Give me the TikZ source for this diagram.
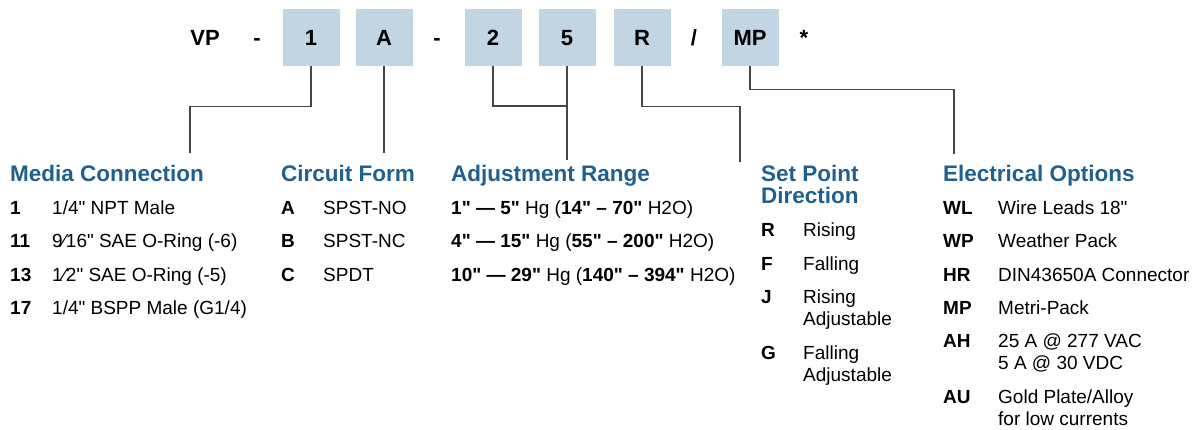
\documentclass[tikz,border=0pt]{standalone}
\usepackage{fontspec}
\setmainfont{Liberation Sans}[Ligatures=TeXOff]
\usepackage{xcolor}
\definecolor{boxblue}{RGB}{194,213,226}
\definecolor{headblue}{RGB}{31,96,142}
\definecolor{linegray}{RGB}{70,70,70}
\tikzset{
  codebox/.style={fill=boxblue,minimum width=57pt,minimum height=57pt,inner sep=0pt,text height=15pt,text depth=0pt,font=\fontsize{22}{24}\selectfont\bfseries},
  sep/.style={anchor=base,inner sep=0pt,font=\fontsize{22}{24}\selectfont\bfseries},
  head/.style={anchor=base west,inner sep=0pt,text=headblue,font=\fontsize{22.5}{22}\selectfont\bfseries},
  code/.style={anchor=base west,inner sep=0pt,font=\fontsize{19}{22}\selectfont\bfseries},
  desc/.style={anchor=base west,inner sep=0pt,font=\fontsize{19}{22}\selectfont},
  link/.style={draw=linegray,line width=1.3pt}
}
\begin{document}
\begin{tikzpicture}[x=1pt,y=-1pt]
            \useasboundingbox (0,0) rectangle (1198,429);

            \node (vp) at (205,45) [sep] {VP};
            \node (d1) at (257,45) [sep] {-};
            \node (b1) at (311,37.5) [codebox] {1};
            \node (bA) at (384,37.5) [codebox] {A};
            \node (d2) at (437,45) [sep] {-};
            \node (b2) at (493,37.5) [codebox] {2};
            \node (b5) at (567,37.5) [codebox] {5};
            \node (bR) at (642,37.5) [codebox] {R};
            \node (sl) at (694,45) [sep] {/};
            \node (bMP) at (750,37.5) [codebox] {MP};
            \node (st) at (804,45) [sep] {*};

            \coordinate (mc) at (190,153);
            \coordinate (cf) at (384,153);
            \coordinate (ar) at (567,160);
            \coordinate (j25) at (567,106);
            \coordinate (sp) at (740,162);
            \coordinate (eo) at (954,154);

            \draw[link] (b1.south) -- ++(0,40) -| (mc);
            \draw[link] (bA.south) -- (cf);
            \draw[link] (b2.south) |- (j25);
            \draw[link] (b5.south) -- (ar);
            \draw[link] (bR.south) -- ++(0,40) -| (sp);
            \draw[link] (bMP.south) -- ++(0,23) -| (eo);

            \node (mch) at (10,181.5) [head] {Media Connection};
            \node (mc1) at (10,214) [code] {1};
            \node (mc1t) at (52,214) [desc] {1/4" NPT Male};
            \node (mc2) at (10,247.5) [code] {11};
            \node (mc2t) at (52,247.5) [desc] {9⁄16" SAE O-Ring (-6)};
            \node (mc3) at (10,281) [code] {13};
            \node (mc3t) at (52,281) [desc] {1⁄2" SAE O-Ring (-5)};
            \node (mc4) at (10,314) [code] {17};
            \node (mc4t) at (52,314) [desc] {1/4" BSPP Male (G1/4)};

            \node (cfh) at (281,181.5) [head] {Circuit Form};
            \node (cf1) at (281,214) [code] {A};
            \node (cf1t) at (323,214) [desc] {SPST-NO};
            \node (cf2) at (281,247.5) [code] {B};
            \node (cf2t) at (323,247.5) [desc] {SPST-NC};
            \node (cf3) at (281,281) [code] {C};
            \node (cf3t) at (323,281) [desc] {SPDT};

            \node (arh) at (451,181.5) [head] {Adjustment Range};
            \node (ar1) at (451,214) [desc] {\textbf{1" — 5"} Hg (\textbf{14" – 70"} H2O)};
            \node (ar2) at (451,247.5) [desc] {\textbf{4" — 15"} Hg (\textbf{55" – 200"} H2O)};
            \node (ar3) at (451,281) [desc] {\textbf{10" — 29"} Hg (\textbf{140" – 394"} H2O)};

            \node (sph) at (761,181.5) [head] {Set Point};
            \node (sph2) at (761,203.5) [head] {Direction};
            \node (sp1) at (761,236) [code] {R};
            \node (sp1t) at (803,236) [desc] {Rising};
            \node (sp2) at (761,270) [code] {F};
            \node (sp2t) at (803,270) [desc] {Falling};
            \node (sp3) at (761,303) [code] {J};
            \node (sp3t) at (803,303) [desc] {Rising};
            \node (sp3u) at (803,325) [desc] {Adjustable};
            \node (sp4) at (761,359) [code] {G};
            \node (sp4t) at (803,359) [desc] {Falling};
            \node (sp4u) at (803,381) [desc] {Adjustable};

            \node (eoh) at (943,181.5) [head] {Electrical Options};
            \node (eo1) at (943,214) [code] {WL};
            \node (eo1t) at (998,214) [desc] {Wire Leads 18"};
            \node (eo2) at (943,247.5) [code] {WP};
            \node (eo2t) at (998,247.5) [desc] {Weather Pack};
            \node (eo3) at (943,281) [code] {HR};
            \node (eo3t) at (998,281) [desc] {DIN43650A Connector};
            \node (eo4) at (943,314) [code] {MP};
            \node (eo4t) at (998,314) [desc] {Metri-Pack};
            \node (eo5) at (943,347) [code] {AH};
            \node (eo5t) at (998,347) [desc] {25 A @ 277 VAC};
            \node (eo5u) at (998,369) [desc] {5 A @ 30 VDC};
            \node (eo6) at (943,403) [code] {AU};
            \node (eo6t) at (998,403) [desc] {Gold Plate/Alloy};
            \node (eo6u) at (998,425) [desc] {for low currents};

\end{tikzpicture}
\end{document}
